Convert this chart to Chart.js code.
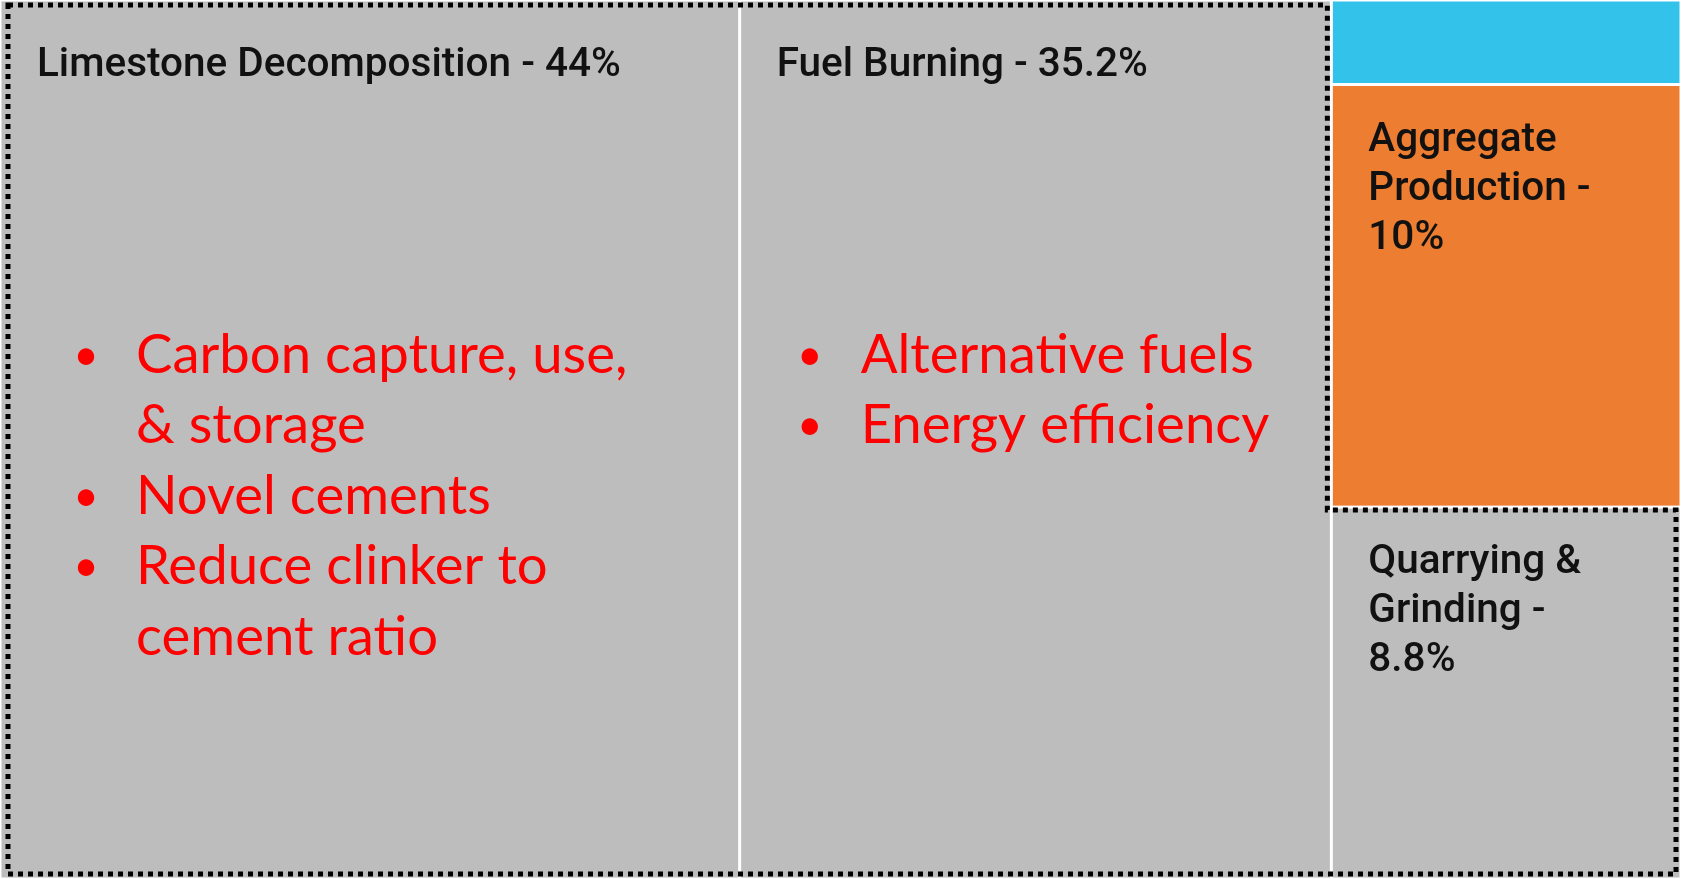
<!DOCTYPE html>
<html>
<head>
<meta charset="utf-8">
<script src="https://cdn.jsdelivr.net/npm/chart.js@4.4.1/dist/chart.umd.min.js"></script>
<style>
  html, body { margin: 0; padding: 0; background: #ffffff; }
  #wrap { position: relative; width: 1681px; height: 879px; }
</style>
</head>
<body>
<div id="wrap"><canvas id="treemap"></canvas></div>
<script>
// ---- data ----
const categories = ['Limestone Decomposition', 'Fuel Burning', 'Other', 'Aggregate Production', 'Quarrying & Grinding'];
const shares = [44, 35.2, 2, 10, 8.8];
const columnOf = [0, 1, 2, 2, 2];
const cellColors = ['#bdbdbd', '#bdbdbd', '#33c3ea', '#ed7d31', '#bdbdbd'];
const hiddenLabels = ['Other'];
const highlighted = [0, 1, 4]; // cells inside the dotted outline

const limestoneNotes = ['Carbon capture, use, & storage', 'Novel cements', 'Reduce clinker to cement ratio'];
const fuelNotes = ['Alternative fuels', 'Energy efficiency'];

/* ================= LAYOUT (data units, 0-100) ================= */
function layoutCells() {
  const cols = [];
  columnOf.forEach((c, i) => { cols[c] = (cols[c] || 0) + shares[i]; });
  const total = cols.reduce((a, b) => a + b, 0);
  const cells = [];
  let x = 0;
  cols.forEach((colSum, c) => {
    const w = colSum / total * 100;
    let y = 0;
    columnOf.forEach((cc, i) => {
      if (cc !== c) return;
      const h = shares[i] / colSum * 100;
      cells[i] = { x0: x, x1: x + w, y0: y, y1: y + h };
      y += h;
    });
    x += w;
  });
  return cells;
}
const cells = layoutCells();

function pxRect(chart, c) {
  const sx = chart.scales.x, sy = chart.scales.y;
  return {
    left: sx.getPixelForValue(c.x0),
    right: sx.getPixelForValue(c.x1),
    top: sy.getPixelForValue(c.y0),
    bottom: sy.getPixelForValue(c.y1)
  };
}

function wrapText(ctx, text, maxWidth) {
  const words = text.split(' ');
  const lines = [];
  let line = '';
  words.forEach(w => {
    const test = line ? line + ' ' + w : w;
    if (line && ctx.measureText(test).width > maxWidth) {
      lines.push(line);
      line = w;
    } else {
      line = test;
    }
  });
  if (line) lines.push(line);
  return lines;
}

const LABEL_FONT = '500 40.5px Roboto';
const NOTE_FONT = '54.5px Lato';
const BULLET_FONT = '44px Lato';
const NOTE_OFFSETS = { 0: { bullet: 86, text: 136 }, 1: { bullet: 70, text: 121 } };

const treemapPlugin = {
  id: 'treemapCells',
  beforeDatasetsDraw(chart) {
    const ctx = chart.ctx;
    ctx.save();
    ctx.fillStyle = '#ffffff';
    ctx.fillRect(0, 0, chart.width, chart.height);
    cells.forEach((c, i) => {
      const r = pxRect(chart, c);
      ctx.fillStyle = cellColors[i];
      ctx.fillRect(r.left + 1.5, r.top + 1.5, r.right - r.left - 3, r.bottom - r.top - 3);
    });
    ctx.restore();
  },
  afterDatasetsDraw(chart) {
    const ctx = chart.ctx;
    ctx.save();

    // category labels
    ctx.font = LABEL_FONT;
    ctx.fillStyle = '#111111';
    ctx.textBaseline = 'alphabetic';
    ctx.textAlign = 'left';
    cells.forEach((c, i) => {
      if (hiddenLabels.includes(categories[i])) return;
      const r = pxRect(chart, c);
      const text = categories[i] + ' - ' + shares[i] + '%';
      const lines = wrapText(ctx, text, r.right - r.left - 90);
      const firstLine = (c.y0 === 0 && c.y1 === 100) ? 76 : 66;
      lines.forEach((ln, k) => {
        ctx.fillText(ln, r.left + 37, r.top + firstLine + k * 49);
      });
    });

    // red notes
    ctx.fillStyle = '#ff0000';
    [[0, limestoneNotes], [1, fuelNotes]].forEach(([ci, notes]) => {
      const r = pxRect(chart, cells[ci]);
      const off = NOTE_OFFSETS[ci];
      let row = 0;
      notes.forEach(n => {
        ctx.font = NOTE_FONT;
        const lines = wrapText(ctx, n, 505);
        ctx.font = BULLET_FONT;
        ctx.textAlign = 'center';
        ctx.fillText('\u2022', r.left + off.bullet, r.top + 370 + row * 70.4);
        ctx.font = NOTE_FONT;
        ctx.textAlign = 'left';
        lines.forEach(ln => {
          ctx.fillText(ln, r.left + off.text, r.top + 373 + row * 70.4);
          row++;
        });
      });
    });

    // dotted outline around highlighted cells
    const a = pxRect(chart, cells[highlighted[0]]);
    const b = pxRect(chart, cells[highlighted[1]]);
    const q = pxRect(chart, cells[highlighted[2]]);
    ctx.strokeStyle = '#000000';
    ctx.lineWidth = 5;
    ctx.setLineDash([5, 5]);
    ctx.beginPath();
    ctx.moveTo(a.left + 8, a.top + 5);
    ctx.lineTo(b.right - 4, b.top + 5);
    ctx.lineTo(b.right - 4, q.top + 3);
    ctx.lineTo(q.right - 5, q.top + 3);
    ctx.lineTo(q.right - 5, q.bottom - 5);
    ctx.lineTo(a.left + 8, a.bottom - 5);
    ctx.closePath();
    ctx.stroke();
    ctx.restore();
  }
};

new Chart(document.getElementById('treemap'), {
  type: 'scatter',
  data: {
    labels: categories,
    datasets: [{ data: cells.map(c => ({ x: (c.x0 + c.x1) / 2, y: (c.y0 + c.y1) / 2 })), pointRadius: 0 }]
  },
  options: {
    responsive: true,
    maintainAspectRatio: false,
    animation: false,
    layout: { padding: 0 },
    plugins: { legend: { display: false }, tooltip: { enabled: false } },
    scales: {
      x: { type: 'linear', min: 0, max: 100, display: false },
      y: { type: 'linear', min: 0, max: 100, reverse: true, display: false }
    }
  },
  plugins: [treemapPlugin]
});
</script>
</body>
</html>
